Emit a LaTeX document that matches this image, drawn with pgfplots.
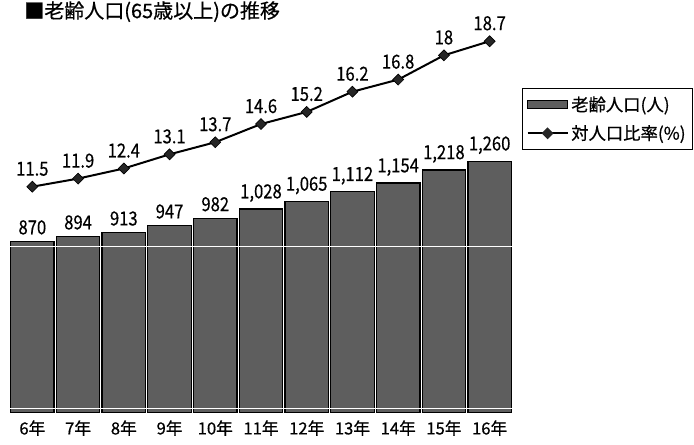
\documentclass[border=0pt]{standalone}
\usepackage{pgfplots}
\pgfplotsset{compat=1.18}
\usepackage{fontspec}
\setmainfont{Noto Sans CJK JP}
\newfontfamily\numfont[FakeStretch=0.86, FakeBold=0.4]{Noto Sans CJK JP}
\newfontfamily\boldjp[FakeBold=0.6]{Noto Sans CJK JP}
\definecolor{barfill}{gray}{0.37}

\begin{document}
\begin{tikzpicture}
\path[use as bounding box] (0,0) rectangle (520.5pt,333.75pt);
\node[anchor=north west, font=\boldjp\fontsize{15}{17}\selectfont, inner sep=0pt] at (18pt,333pt) {■老齢人口(65歳以上)の推移};

% bars: 老齢人口
\begin{axis}[
    at={(7.125pt,24pt)}, anchor=south west,
    scale only axis, width=377.25pt, height=294.75pt,
    xmin=-0.5, xmax=10.5, ymin=39, ymax=1945,
    ybar, bar width=0.95,
    axis line style={draw=none},
    xtick=data,
    xticklabels={6年,7年,8年,9年,10年,11年,12年,13年,14年,15年,16年},
    ytick=\empty, major tick length=0pt,
    xticklabel style={font=\boldjp\fontsize{12.5}{14}\selectfont, yshift=-2pt},
    nodes near coords={\pgfmathprintnumber[assume math mode=true,1000 sep={,}]{\pgfplotspointmeta}},
    every node near coord/.append style={font=\numfont\fontsize{14.5}{16}\selectfont, yshift=1.5pt},
]
\addplot[fill=barfill, draw=black, line width=1pt] coordinates {
    (0,870) (1,894) (2,913) (3,947) (4,982) (5,1028)
    (6,1065) (7,1112) (8,1154) (9,1218) (10,1260)};
\draw[white, line width=0.7pt] (axis cs:-0.5,849) -- (axis cs:10.5,849);
\draw[white, line width=0.7pt] (axis cs:-0.5,63) -- (axis cs:10.5,63);
\end{axis}

% line: 対人口比率
\begin{axis}[
    at={(7.125pt,24pt)}, anchor=south west,
    scale only axis, width=377.25pt, height=294.75pt,
    xmin=-0.5, xmax=10.5, ymin=0.3, ymax=19.75,
    hide axis, clip=false,
    legend style={at={(1.019,0.827)}, anchor=north west, draw=black, line width=0.8pt,
        font=\boldjp\fontsize{13}{15}\selectfont, row sep=5pt, inner xsep=3pt, inner ysep=4pt},
    legend cell align=left,
]
\addlegendimage{legend image code/.code={
    \draw[fill=barfill, draw=black, line width=0.6pt] (0pt,-3pt) rectangle (30pt,3pt);}}
\addlegendentry{老齢人口(人)}
\addplot[black, line width=1.5pt, mark=square*, mark size=2.9pt,
    mark options={rotate=45, fill=black!85, line width=0.5pt},
    legend image code/.code={
        \draw[black, line width=1.5pt] (0pt,0pt) -- (30pt,0pt);
        \fill[black!85, rotate around={45:(15pt,0pt)}] (12.6pt,-2.4pt) rectangle (17.4pt,2.4pt);},
    nodes near coords={\pgfmathprintnumber[assume math mode=true,precision=1]{\pgfplotspointmeta}},
    every node near coord/.append style={font=\numfont\fontsize{14.5}{16}\selectfont, yshift=4.5pt}]
    coordinates {
    (0,11.5) (1,11.9) (2,12.4) (3,13.1) (4,13.7) (5,14.6)
    (6,15.2) (7,16.2) (8,16.8) (9,18) (10,18.7)};
\addlegendentry{対人口比率(\%)}
\end{axis}
\end{tikzpicture}
\end{document}
